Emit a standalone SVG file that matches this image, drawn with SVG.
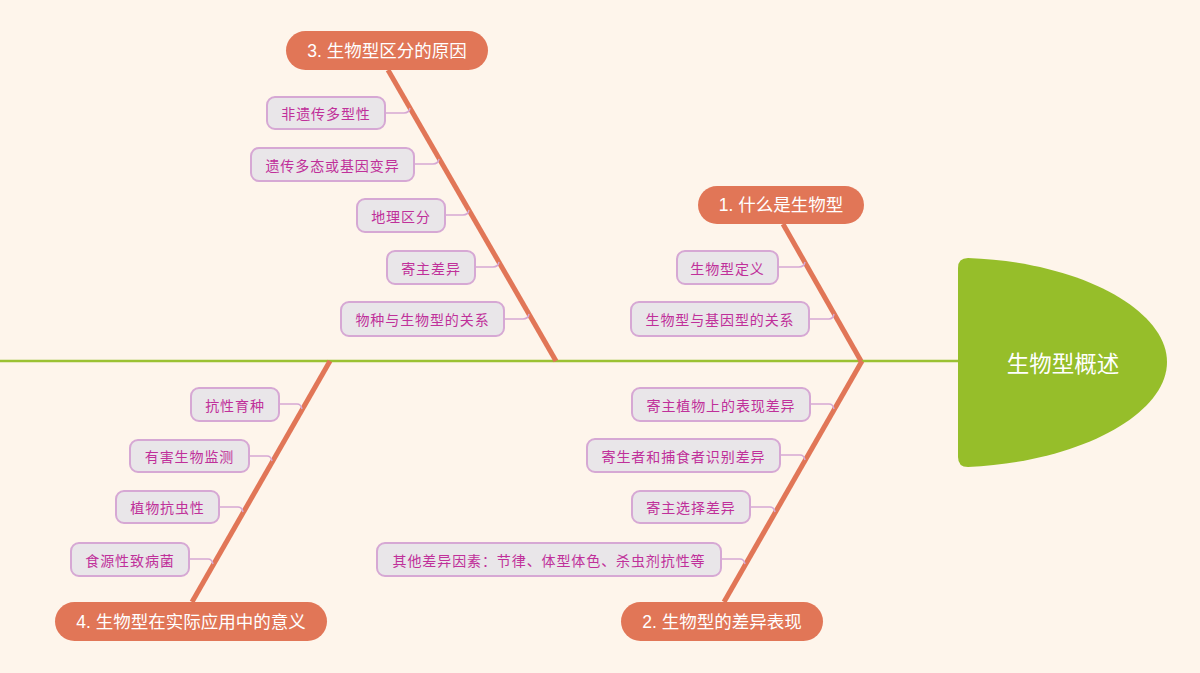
<svg xmlns="http://www.w3.org/2000/svg" width="1200" height="673" viewBox="0 0 1200 673">
<style>
.cat rect{fill:#e17657;}
.cat text{fill:#ffffff;font-family:"Liberation Sans","Noto Sans CJK SC",sans-serif;font-size:17.5px;text-anchor:middle;dominant-baseline:central;}
.leaf rect{fill:#e9e6e9;stroke:#d6a8d4;stroke-width:2;}
.leaf text{fill:#c0309a;font-family:"Noto Sans CJK SC",sans-serif;font-size:14px;letter-spacing:0.9px;text-anchor:middle;dominant-baseline:central;}
.bone{stroke:#e17657;stroke-width:5;fill:none;stroke-linecap:butt;}
.lc{stroke:#d6a8d4;stroke-width:1.5;fill:none;}
</style>
<rect width="1200" height="673" fill="#fef5eb"/>
<g id="connectors">
<line x1="0" y1="361" x2="962" y2="361" stroke="#9bc132" stroke-width="2.5"/>
<line class="bone" x1="783" y1="224" x2="861" y2="361"/>
<line class="bone" x1="862" y1="361" x2="724" y2="602"/>
<line class="bone" x1="388" y1="70" x2="556" y2="361"/>
<line class="bone" x1="330" y1="361" x2="192" y2="602"/>
<path class="lc" d="M385 113H404Q409 113 410 108"/>
<path class="lc" d="M414 164H433Q438 164 439 159"/>
<path class="lc" d="M445 215H463Q468 215 469 210"/>
<path class="lc" d="M475 267H493Q498 267 499 262"/>
<path class="lc" d="M504 319H523Q528 319 529 314"/>
<path class="lc" d="M778 267H799Q804 267 805 262"/>
<path class="lc" d="M809 319H829Q833 319 834 314"/>
<path class="lc" d="M810 404H829Q833 404 834 409"/>
<path class="lc" d="M780 455H800Q804 455 805 460"/>
<path class="lc" d="M750 507H770Q774 507 775 512"/>
<path class="lc" d="M721 559H740Q744 559 745 564"/>
<path class="lc" d="M279 404H297Q301 404 302 409"/>
<path class="lc" d="M249 456H267Q271 456 272 461"/>
<path class="lc" d="M219 507H238Q242 507 243 512"/>
<path class="lc" d="M189 559H208Q212 559 213 564"/>
</g>
<g id="head">
<path d="M968 258C1080 262 1167 310 1167 362C1167 414 1080 462 968 467Q958 467 958 457V268Q958 258 968 258Z" fill="#96be2a"/>
<text x="1063" y="362" fill="#ffffff" font-family="Noto Sans CJK SC,sans-serif" font-size="22.5" text-anchor="middle" dominant-baseline="central">生物型概述</text>
</g>
<g id="cat1" class="cat"><rect x="698" y="186" width="166" height="38" rx="19"/><text x="781" y="205">1. 什么是生物型</text></g>
<g id="cat2" class="cat"><rect x="621" y="602" width="202" height="39" rx="19.5"/><text x="722" y="621.5">2. 生物型的差异表现</text></g>
<g id="cat3" class="cat"><rect x="286" y="31" width="202" height="39" rx="19.5"/><text x="387" y="50.5">3. 生物型区分的原因</text></g>
<g id="cat4" class="cat"><rect x="55" y="602" width="272" height="39" rx="19.5"/><text x="191" y="621.5">4. 生物型在实际应用中的意义</text></g>
<g id="l3a" class="leaf"><rect x="267" y="97" width="118" height="32" rx="8"/><text x="326" y="113">非遗传多型性</text></g>
<g id="l3b" class="leaf"><rect x="251" y="148" width="163" height="33" rx="8"/><text x="332.5" y="164.5">遗传多态或基因变异</text></g>
<g id="l3c" class="leaf"><rect x="357" y="199" width="88" height="33" rx="8"/><text x="401" y="215.5">地理区分</text></g>
<g id="l3d" class="leaf"><rect x="387" y="251" width="88" height="33" rx="8"/><text x="431" y="267.5">寄主差异</text></g>
<g id="l3e" class="leaf"><rect x="341" y="302" width="163" height="34" rx="8"/><text x="422.5" y="319">物种与生物型的关系</text></g>
<g id="l1a" class="leaf"><rect x="677" y="251" width="101" height="33" rx="8"/><text x="727.5" y="267.5">生物型定义</text></g>
<g id="l1b" class="leaf"><rect x="631" y="302" width="178" height="34" rx="8"/><text x="720" y="319">生物型与基因型的关系</text></g>
<g id="l2a" class="leaf"><rect x="632" y="388" width="178" height="33" rx="8"/><text x="721" y="404.5">寄主植物上的表现差异</text></g>
<g id="l2b" class="leaf"><rect x="587" y="439" width="193" height="33" rx="8"/><text x="683.5" y="455.5">寄生者和捕食者识别差异</text></g>
<g id="l2c" class="leaf"><rect x="632" y="491" width="118" height="32" rx="8"/><text x="691" y="507">寄主选择差异</text></g>
<g id="l2d" class="leaf"><rect x="377" y="543" width="344" height="33" rx="8"/><text x="549" y="559.5">其他差异因素：节律、体型体色、杀虫剂抗性等</text></g>
<g id="l4a" class="leaf"><rect x="191" y="388" width="88" height="33" rx="8"/><text x="235" y="404.5">抗性育种</text></g>
<g id="l4b" class="leaf"><rect x="130" y="440" width="119" height="32" rx="8"/><text x="189.5" y="456">有害生物监测</text></g>
<g id="l4c" class="leaf"><rect x="116" y="491" width="103" height="32" rx="8"/><text x="167.5" y="507">植物抗虫性</text></g>
<g id="l4d" class="leaf"><rect x="71" y="543" width="118" height="33" rx="8"/><text x="130" y="559.5">食源性致病菌</text></g>
</svg>
